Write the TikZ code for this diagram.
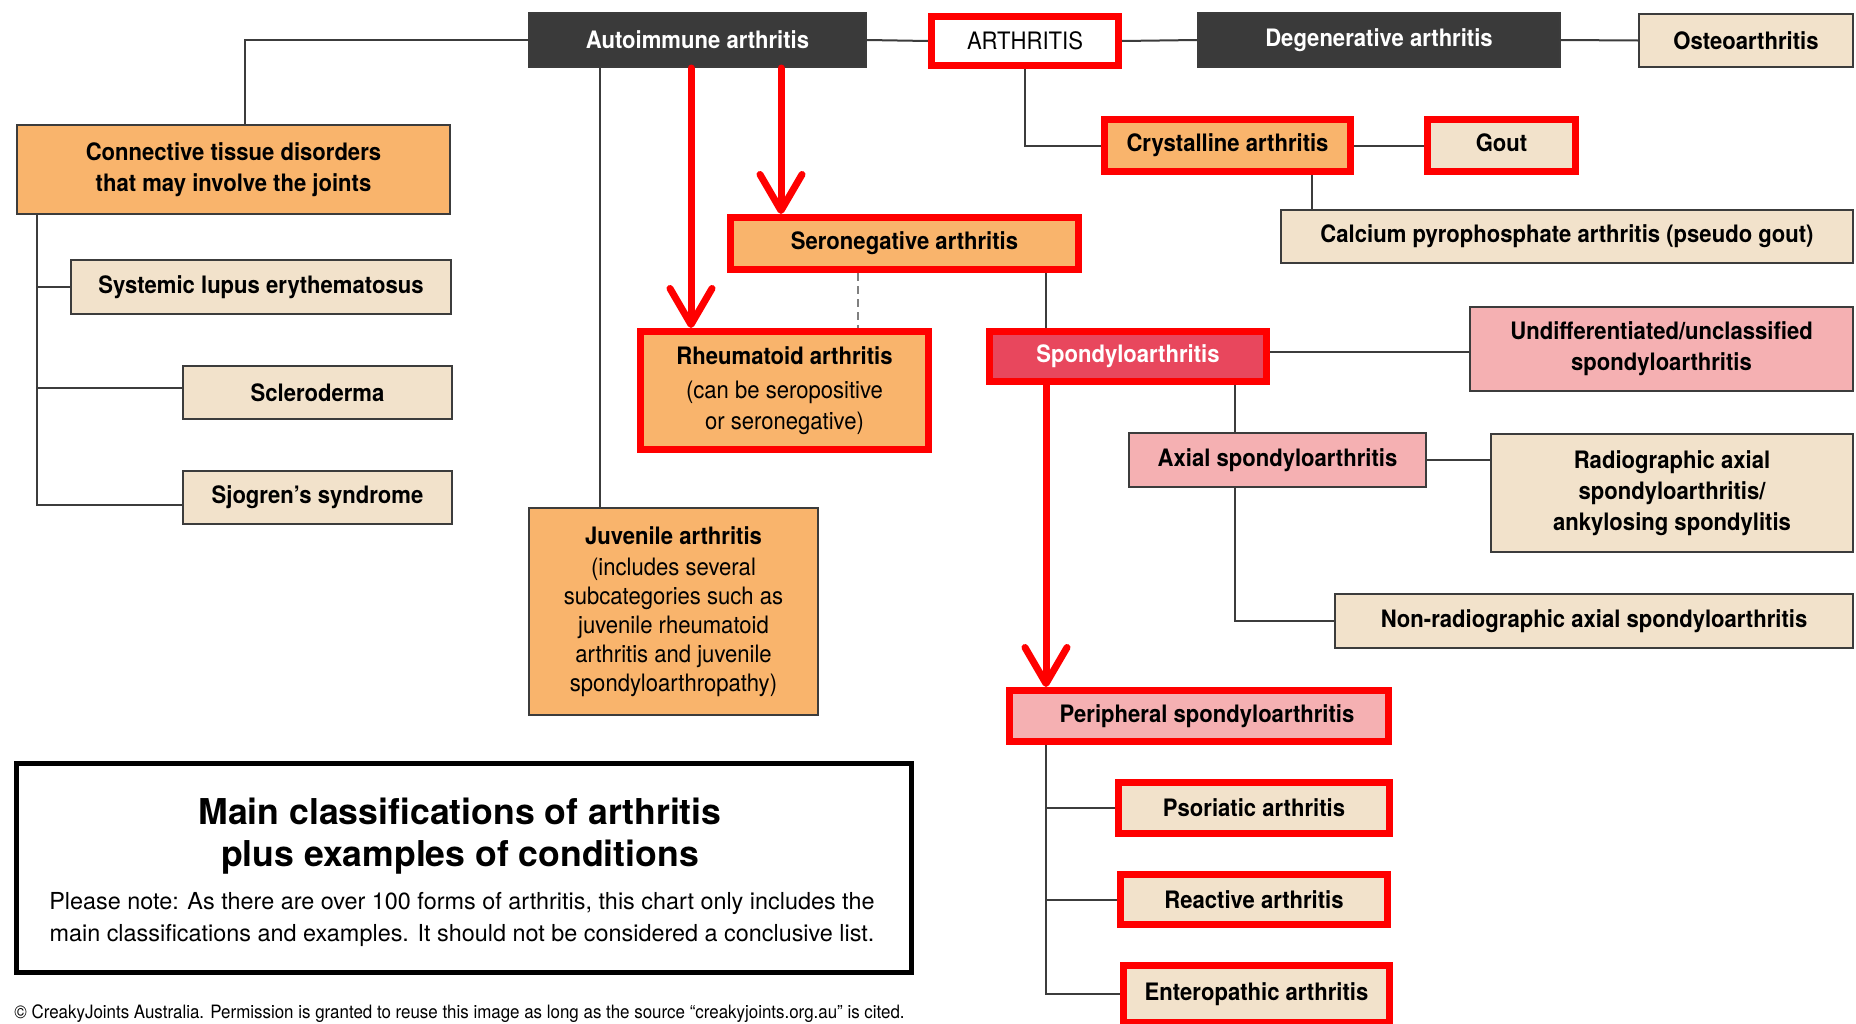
\documentclass[tikz,border=0pt]{standalone}
\usepackage{fontspec}
\setmainfont{TeX Gyre Heros}[FakeStretch=0.92]
\newfontfamily\plainheros{TeX Gyre Heros}
\usetikzlibrary{arrows.meta,backgrounds}
\definecolor{darkbox}{HTML}{3A3A3A}
\definecolor{orng}{HTML}{F9B46C}
\definecolor{beige}{HTML}{F2E2CB}
\definecolor{pinkb}{HTML}{F5B0B2}
\definecolor{crim}{HTML}{E8475D}
\definecolor{linec}{HTML}{3C3C3C}
\definecolor{hred}{HTML}{FF0000}
\tikzset{
 box/.style={draw=linec, line width=1pt, inner sep=0pt, align=center, text=black,
   font=\fontsize{12}{15.5}\selectfont\bfseries},
 dark/.style={box, fill=darkbox, text=white},
 orange/.style={box, fill=orng},
 beigeb/.style={box, fill=beige},
 pinkbox/.style={box, fill=pinkb},
 hl/.style={draw=hred, line width=3.5pt},
 link/.style={draw=linec, line width=1pt},
 redarr/.style={draw=hred, line width=3.5pt, line cap=round,
   -{Straight Barb[length=18pt, width=21pt, round]}},
}
\begin{document}
\begin{tikzpicture}[x=0.5pt,y=-0.5pt]
\useasboundingbox (0,0) rectangle (1856,1023);
% column coordinates
\coordinate (cL) at (37,0);
\coordinate (cC) at (245,0);
\coordinate (cJ) at (600,0);
\coordinate (cR) at (691,0);
\coordinate (cS) at (781,0);
\coordinate (cD) at (858,0);
\coordinate (cSp) at (1046,0);
\coordinate (cAx) at (1235,0);
\coordinate (cCa) at (1312,0);
% nodes
\node[dark, minimum width=168.5pt, minimum height=27pt] (auto) at (697.5,40) {Autoimmune arthritis};
\node[box, fill=white, hl, font=\fontsize{12}{14}\selectfont, minimum width=93.5pt, minimum height=24.5pt] (arth) at (1025,41) {ARTHRITIS};
\node[dark, minimum width=181pt, minimum height=27pt] (degen) at (1379,40) {Degenerative arthritis};
\node[beigeb, minimum width=107pt, minimum height=26.5pt] (osteo) at (1746,40.5) {Osteoarthritis};
\node[orange, minimum width=216.5pt, minimum height=44.5pt] (conn) at (233.5,169.5) {Connective tissue disorders\\that may involve the joints};
\node[beigeb, minimum width=190pt, minimum height=27pt] (sle) at (261,287) {Systemic lupus erythematosus};
\node[beigeb, minimum width=134.5pt, minimum height=26.5pt] (scl) at (317.5,392.5) {Scleroderma};
\node[beigeb, minimum width=134.5pt, minimum height=26.5pt] (sjo) at (317.5,497.5) {Sjogren’s syndrome};
\node[orange, hl, minimum width=123pt, minimum height=26pt] (crys) at (1227.5,145.5) {Crystalline arthritis};
\node[beigeb, hl, minimum width=74pt, minimum height=26pt] (gout) at (1501.5,145.5) {Gout\vphantom{y}};
\node[beigeb, minimum width=286pt, minimum height=26.5pt] (calc) at (1567,236.5) {Calcium pyrophosphate arthritis (pseudo gout)};
\node[orange, hl, minimum width=174pt, minimum height=26pt] (sero) at (904.5,243.5) {Seronegative arthritis};
\node[orange, hl, minimum width=144pt, minimum height=59pt] (rheu) at (784.5,390.5) {Rheumatoid arthritis\\[1.5pt]\mdseries (can be seropositive\\\mdseries or seronegative)};
\node[box, fill=crim, hl, text=white, minimum width=138.5pt, minimum height=25pt] (spon) at (1128,356.5) {Spondyloarthritis};
\node[orange, minimum width=144.5pt, minimum height=103.5pt, font=\fontsize{12}{14.5}\selectfont] (juv) at (673.5,611.5) {\bfseries Juvenile arthritis\\[1pt](includes several\\subcategories such as\\juvenile rheumatoid\\arthritis and juvenile\\spondyloarthropathy)};
\node[pinkbox, minimum width=191.5pt, minimum height=42pt] (undiff) at (1661.5,349) {Undifferentiated/unclassified\\spondyloarthritis};
\node[pinkbox, minimum width=148.5pt, minimum height=27pt] (axial) at (1277.5,460) {Axial spondyloarthritis};
\node[beigeb, minimum width=181pt, minimum height=59pt] (radio) at (1672,493) {Radiographic axial\\spondyloarthritis/\\ankylosing spondylitis};
\node[beigeb, minimum width=259pt, minimum height=27pt] (nonrad) at (1594,621) {Non-radiographic axial spondyloarthritis};
\node[pinkbox, hl, minimum width=189.5pt, minimum height=25.5pt] (peri) at (1199,716) {\hspace{8pt}Peripheral spondyloarthritis};
\node[beigeb, hl, minimum width=135.5pt, minimum height=25.5pt] (psor) at (1254,808) {Psoriatic arthritis};
\node[beigeb, hl, minimum width=133.5pt, minimum height=25pt] (reac) at (1254,899.5) {Reactive arthritis};
\node[beigeb, hl, minimum width=133pt, minimum height=28.5pt] (ente) at (1256.5,994) {Enteropathic arthritis};
% title box
\node[draw=black, line width=2.5pt, minimum width=447.5pt, minimum height=104.5pt, inner sep=0pt] (tbox) at (464,868) {};
\node[align=center, inner sep=0pt, font=\plainheros\fontsize{17.8}{21}\selectfont\bfseries] (title) at (460,836) {Main classifications of arthritis\\plus examples of conditions};
\node[align=center, inner sep=0pt, font=\plainheros\fontsize{11.7}{16}\selectfont] (note) at (462,919) {Please note: As there are over 100 forms of arthritis, this chart only includes the\\main classifications and examples. It should not be considered a conclusive list.};
\node[anchor=west, inner sep=0pt, font=\fontsize{9.2}{10}\selectfont] (copy) at (14,1014) {© CreakyJoints Australia. Permission is granted to reuse this image as long as the source “creakyjoints.org.au” is cited.};
% connectors
\begin{scope}[on background layer]
\draw[link] (auto.west) -| (cC |- conn.north);
\draw[link] (auto.east) -- (arth.west);
\draw[link] (arth.east) -- (degen.west);
\draw[link] (degen.east) -- (osteo.west);
\draw[link] (arth.south) |- (crys.west);
\draw[link] (crys.east) -- (gout.west);
\draw[link] (crys.south -| cCa) -- (calc.north -| cCa);
\draw[link] (conn.south -| cL) |- ([yshift=-3.5pt]sjo.west);
\draw[link] (cL |- sle.west) -- (sle.west);
\path ([yshift=2.5pt]scl.west) coordinate (sclb);
\draw[link] (cL |- sclb) -- (sclb);
\draw[link] (auto.south -| cJ) -- (juv.north -| cJ);
\draw[link, draw=gray, dash pattern=on 4pt off 2.5pt] (sero.south -| cD) -- (rheu.north -| cD);
\draw[link] (sero.south -| cSp) -- (spon.north -| cSp);
\path ([yshift=2.25pt]spon.east) coordinate (sponr);
\draw[link] (sponr) -- (sponr -| undiff.west);
\draw[link] (spon.south -| cAx) -- (axial.north -| cAx);
\draw[link] (axial.south -| cAx) |- (nonrad.west);
\draw[link] (axial.east) -- (axial.east -| radio.west);
\draw[link] (peri.south -| cSp) |- (ente.west);
\draw[link] (cSp |- psor.west) -- (psor.west);
\draw[link] (cSp |- reac.west) -- (reac.west);
\end{scope}
% red arrows
\draw[redarr] (auto.south -| cR) -- (rheu.north -| cR);
\draw[redarr] (auto.south -| cS) -- (sero.north -| cS);
\draw[redarr] (spon.south -| cSp) -- (peri.north -| cSp);
\end{tikzpicture}
\end{document}
